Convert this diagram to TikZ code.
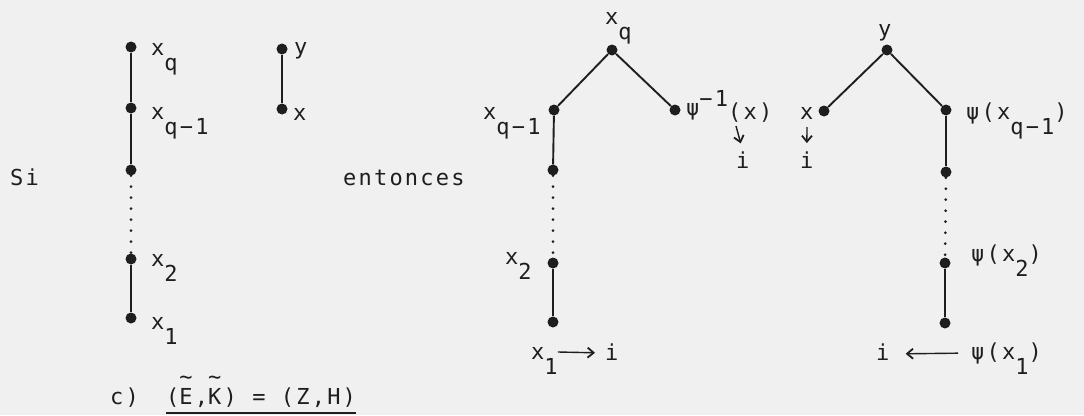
\documentclass[tikz,border=0pt]{standalone}
\usepackage{fontspec}
\setmainfont{DejaVu Sans Mono}[LetterSpace=10]
\usetikzlibrary{arrows.meta}
\definecolor{ink}{RGB}{30,30,30}
\definecolor{bg}{RGB}{240,240,240}
\newcommand\sbx[1]{\raisebox{-15pt}{#1}}
\newcommand\spx[1]{\raisebox{13pt}{#1}}
\newcommand\tld[1]{\makebox[0pt][l]{\raisebox{20pt}{\textasciitilde}}#1}
\tikzset{
  dot/.style={circle, fill=ink, inner sep=0pt, minimum size=11pt},
  edge/.style={line width=1.9pt, draw=ink},
  dotline/.style={line width=3pt, draw=ink, line cap=round, dash pattern=on 0pt off 11pt},
  lbl/.style={anchor=base west, inner sep=0pt, text=ink},
  arr/.style={line width=1.4pt, draw=ink, -{Straight Barb[length=6pt,width=10pt,line width=1.8pt]}}
}
\begin{document}
\begin{tikzpicture}[x=1pt,y=-1pt,font=\fontsize{22}{26}\selectfont]
\fill[bg] (0,0) rectangle (1084,415);
\useasboundingbox (0,0) rectangle (1084,415);
% left chain
\node[dot] (L1) at (131,47) {};
\node[dot] (L2) at (131,108) {};
\node[dot] (L3) at (131,170) {};
\node[dot] (L4) at (131,259) {};
\node[dot] (L5) at (131,318) {};
\draw[edge] (L1) -- (L2) -- (L3);
\draw[dotline] (L3) -- (L4);
\draw[edge] (L4) -- (L5);
\node[lbl] (lq) at (151,55) {x\sbx{q}};
\node[lbl] (lq1) at (151,119) {x\sbx{q−1}};
\node[lbl] (l2) at (151,266) {x\sbx{2}};
\node[lbl] (l1) at (151,329) {x\sbx{1}};
% pair
\node[dot] (P1) at (282,49) {};
\node[dot] (P2) at (282,109) {};
\draw[edge] (P1) -- (P2);
\node[lbl] (py) at (294,54) {y};
\node[lbl] (px) at (293,120) {x};
% words
\node[lbl] (si) at (10,185) {Si};
\node[lbl] (ent) at (343,185) {entonces};
\node[lbl] (cc) at (110,404) {c)};
\node[lbl] (ce) at (166,404) {(\tld{E},\tld{K}) = (Z,H)};
\draw[edge,line width=1.4pt] ([yshift=-9pt]ce.base west) -- ([yshift=-9pt]ce.base east);
% middle tree
\node[dot] (M0) at (612,50) {};
\node[dot] (M1) at (554,110) {};
\node[dot] (M2) at (675,110) {};
\node[dot] (M3) at (553,170) {};
\node[dot] (M4) at (553,263) {};
\node[dot] (M5) at (553,322) {};
\draw[edge] (M1) -- (M0) -- (M2);
\draw[edge] (M1) -- (M3);
\draw[dotline] (M3) -- (M4);
\draw[edge] (M4) -- (M5);
\node[lbl] (mq) at (605,24) {x\sbx{q}};
\node[lbl] (mq1) at (483,119) {x\sbx{q−1}};
\node[lbl] (mpsi) at (686,119) {\raisebox{4pt}{ψ}\spx{−1}(x)};
\node[lbl] (m2) at (505,264) {x\sbx{2}};
\node[lbl] (m1) at (531,359) {x\sbx{1}};
\node[lbl] (mi1) at (605,360) {i};
\node[lbl] (mi2) at (736,168) {i};
\coordinate (d1) at (736,126);
\draw[arr, shorten >=8pt] (d1) -- (mi2.north);
\draw[arr, shorten >=10pt] ([yshift=7pt]m1.base east) -- ([yshift=7pt]mi1.base west);
% right tree
\node[dot] (R0) at (887,50) {};
\node[dot] (R1) at (824,111) {};
\node[dot] (R2) at (946,110) {};
\node[dot] (R3) at (946,172) {};
\node[dot] (R4) at (945,263) {};
\node[dot] (R5) at (945,323) {};
\draw[edge] (R1) -- (R0) -- (R2);
\draw[edge] (R2) -- (R3);
\draw[dotline] (R3) -- (R4);
\draw[edge] (R4) -- (R5);
\node[lbl] (ry) at (878,36) {y};
\node[lbl] (rx) at (800,119) {x};
\node[lbl] (ri2) at (800,168) {i};
\coordinate (d2) at (807,127);
\draw[arr, shorten >=8pt] (d2) -- (ri2.north);
\node[lbl] (rq1) at (966,119) {ψ(x\sbx{q−1})};
\node[lbl] (r2) at (971,261) {ψ(x\sbx{2})};
\node[lbl] (r1) at (971,359) {ψ(x\sbx{1})};
\node[lbl] (ri3) at (876,360) {i};
\draw[arr, shorten <=13pt, shorten >=16pt] ([yshift=6pt]r1.base west) -- ([yshift=6pt]ri3.base east);
\end{tikzpicture}
\end{document}
